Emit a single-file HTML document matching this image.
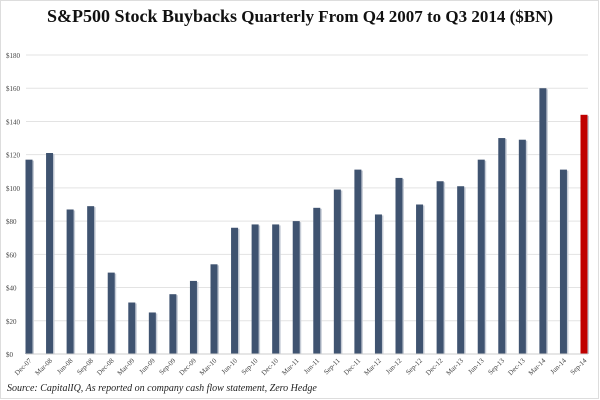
<!DOCTYPE html>
<html><head><meta charset="utf-8"><style>
body{margin:0;background:#fff;width:600px;height:400px;overflow:hidden;font-family:"Liberation Serif",serif}
#title{position:absolute;left:0;top:6px;width:600px;text-align:center;font-weight:bold;font-size:17px;color:#111}
#title .s{font-size:18px}
#src{position:absolute;left:7px;top:383px;font-style:italic;font-size:10px;color:#222}
</style></head><body>
<div id="title"><span class="s">S&amp;P500 Stock Buybacks</span> Quarterly From Q4 2007 to Q3 2014 ($BN)</div>
<svg id="chart" width="600" height="400" style="position:absolute;left:0;top:0"></svg>
<div id="src">Source: CapitalIQ, As reported on company cash flow statement, Zero Hedge</div>
<script>
const categories=["Dec-07","Mar-08","Jun-08","Sep-08","Dec-08","Mar-09","Jun-09","Sep-09","Dec-09","Mar-10","Jun-10","Sep-10","Dec-10","Mar-11","Jun-11","Sep-11","Dec-11","Mar-12","Jun-12","Sep-12","Dec-12","Mar-13","Jun-13","Sep-13","Dec-13","Mar-14","Jun-14","Sep-14"];
const values=[117,121,87,89,49,31,25,36,44,54,76,78,78,80,88,99,111,84,106,90,104,101,117,130,129,160,111,144];
const yTicks=[0,20,40,60,80,100,120,140,160,180];
const yTickLabels=["$0","$20","$40","$60","$80","$100","$120","$140","$160","$180"];
const svg=document.getElementById('chart');const NS='http://www.w3.org/2000/svg';
const y0=354,y1=55,yMax=180;
function y(v){return y0-(v/yMax)*(y0-y1);}
const xFirst=29,xLast=584;
function x(i){return xFirst+i*(xLast-xFirst)/(categories.length-1);}
function mk(t,a){const e=document.createElementNS(NS,t);for(const k in a)e.setAttribute(k,a[k]);svg.appendChild(e);return e;}
// frame
let f=mk('rect',{x:0.5,y:0.5,width:598,height:398,fill:'none',stroke:'#ddd'});


yTicks.forEach((t,i)=>{
 const g=mk('line',{x1:26,x2:588,y1:y(t),y2:y(t),stroke:'#e3e3e3','stroke-width':1});
 
 
 const l=mk('text',{x:6,y:y(t)+3,'font-size':7,fill:'#444','font-family':'Liberation Serif, serif'});
 l.textContent=yTickLabels[i];
 
 
});
const bw=7;
categories.forEach((c,i)=>{
 const v=values[i];const cx=x(i);
 const sh=mk('rect',{x:cx-bw/2+1.5,y:y(v)+1,width:bw,height:y0-y(v)-1,fill:'#c6ccd6'});
 
 
 const b=mk('rect',{x:cx-bw/2,y:y(v),width:bw,height:y0-y(v),fill:i===categories.length-1?'#c00000':'#3f5370'});
 
 
 const t=mk('text',{x:cx+3,y:y0+7,'font-size':7,fill:'#444','text-anchor':'end','font-family':'Liberation Serif, serif',transform:`rotate(-45 ${cx+3} ${y0+7})`});
 t.textContent=c;
 
 
});
const ax=mk('line',{x1:26,x2:588,y1:y0,y2:y0,stroke:'#ccc'});


</script>
</body></html>
